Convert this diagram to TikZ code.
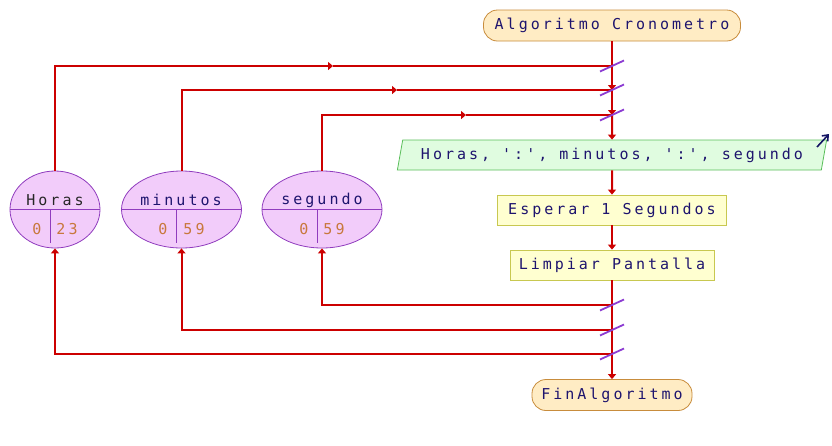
\documentclass[tikz,border=0pt]{standalone}
\usepackage{fontspec}
\newfontfamily\flowfont[LetterSpace=20]{DejaVu Sans Mono}
\usetikzlibrary{arrows.meta,shapes.geometric}
\definecolor{flowred}{RGB}{204,0,0}
\definecolor{txtblue}{RGB}{30,20,110}
\definecolor{numorange}{RGB}{200,120,60}
\definecolor{termfill}{RGB}{255,236,196}
\definecolor{termdraw}{RGB}{200,140,60}
\definecolor{outfill}{RGB}{224,252,224}
\definecolor{outdraw}{RGB}{90,190,90}
\definecolor{procfill}{RGB}{255,255,208}
\definecolor{procdraw}{RGB}{200,200,80}
\definecolor{varfill}{RGB}{242,204,250}
\definecolor{vardraw}{RGB}{144,60,190}
\definecolor{slashcol}{RGB}{140,60,210}
\definecolor{outarrow}{RGB}{20,20,100}
\begin{document}
\begin{tikzpicture}[x=1pt,y=-1pt,
  every node/.style={font=\flowfont\fontsize{15pt}{17pt}\selectfont, text=txtblue, inner sep=0pt},
  term/.style={draw=termdraw, fill=termfill, rounded corners=14pt, minimum height=31pt, line width=0.8pt},
  proc/.style={draw=procdraw, fill=procfill, minimum height=30pt, line width=0.8pt},
  outbox/.style={trapezium, trapezium left angle=71.6, trapezium right angle=108.4, trapezium stretches, draw=outdraw, fill=outfill, minimum width=430pt, minimum height=30pt, line width=0.8pt},
  var/.style={ellipse, draw=vardraw, fill=varfill, line width=0.8pt},
  divline/.style={draw=vardraw, line width=0.8pt},
  flow/.style={draw=flowred, line width=2pt},
  tip/.style={-{Triangle[length=5pt,width=8pt]}},
  slash/.style={draw=slashcol, line width=1.8pt},
  num/.style={text=numorange}]
\useasboundingbox (0,0) rectangle (832,445);

% main column
\node[term, minimum width=257pt] (start) at (612,25.5) {Algoritmo Cronometro};
\node[outbox] (out) at (612,155) {Horas, ':', minutos, ':', segundo\hspace{6pt}};
\node[proc, minimum width=229pt] (wait) at (612,210) {Esperar 1 Segundos};
\node[proc, minimum width=204pt] (clr) at (612,265) {Limpiar Pantalla};
\node[term, minimum width=160pt] (fin) at (612,395) {FinAlgoritmo};

\coordinate (j1) at (612,66);
\coordinate (j2) at (612,90);
\coordinate (j3) at (612,115);
\coordinate (j4) at (612,305);
\coordinate (j5) at (612,330);
\coordinate (j6) at (612,354);

% variables
\node[var, minimum width=90pt, minimum height=77pt] (h) at (55,209.5) {};
\node[var, minimum width=120pt, minimum height=77pt] (m) at (181.5,209.5) {};
\node[var, minimum width=120pt, minimum height=77pt] (s) at (322,209.5) {};
\draw[divline] (h.west) -- (h.east);
\draw[divline] (m.west) -- (m.east);
\draw[divline] (s.west) -- (s.east);
\coordinate (hd) at (50,209.5);
\coordinate (md) at (176,209.5);
\coordinate (sd) at (317,209.5);
\draw[divline] (hd) -- ++(0,33.5);
\draw[divline] (md) -- ++(0,33.5);
\draw[divline] (sd) -- ++(0,33.5);
\node[text=black!85] (ht) at (55,200) {Horas};
\node (mt) at (181,200) {minutos};
\node (st) at (322,200) {segundo};
\node[num] (h0) at (37,229) {0};
\node[num] (h1) at (67,229) {23};
\node[num] (m0) at (163,229) {0};
\node[num] (m1) at (194,229) {59};
\node[num] (s0) at (304,229) {0};
\node[num] (s1) at (334,229) {59};

% main flow
\draw[flow] (start.south) -- (j1);
\draw[flow,tip] (j1) -- (j2);
\draw[flow,tip] (j2) -- (j3);
\draw[flow,tip] (j3) -- (out.north);
\draw[flow,tip] (out.south) -- (wait.north);
\draw[flow,tip] (wait.south) -- (clr.north);
\draw[flow] (clr.south) -- (j4);
\draw[flow] (j4) -- (j5);
\draw[flow] (j5) -- (j6);
\draw[flow,tip] (j6) -- (fin.north);

% loops from variables into the top junctions
\coordinate (a1) at (333,66);
\coordinate (a2) at (397,90);
\coordinate (a3) at (466,115);
\draw[flow,tip] (h.north) |- (a1);
\draw[flow] (a1) -- (j1);
\draw[flow,tip] (m.north) |- (a2);
\draw[flow] (a2) -- (j2);
\draw[flow,tip] (s.north) |- (a3);
\draw[flow] (a3) -- (j3);

% loops from bottom junctions back to variables
\draw[flow,tip] (j4) -| (s.south);
\draw[flow,tip] (j5) -| (m.south);
\draw[flow,tip] (j6) -| (h.south);

% slashes
\foreach \j in {j1,j2,j3,j4,j5,j6}
  \draw[slash,shift={(\j)}] (-12,5.5) -- (12,-5.5);

% output indicator arrow
\coordinate (oa) at (817,147);
\coordinate (ob) at (829,134);
\draw[draw=outarrow, line width=1.6pt, -{Straight Barb[length=5pt,width=8pt]}] (oa) -- (ob);
\end{tikzpicture}
\end{document}
